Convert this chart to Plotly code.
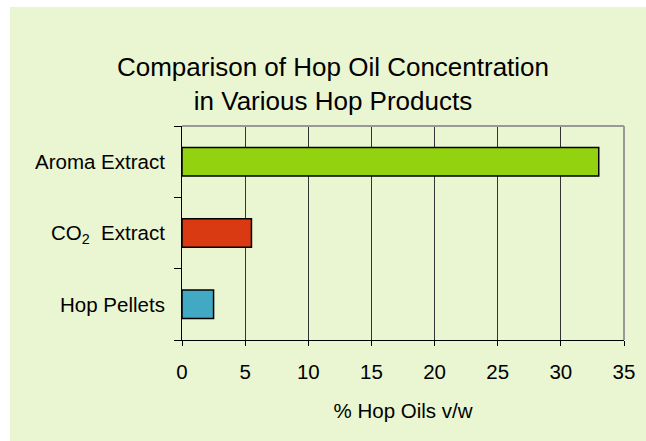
import plotly.graph_objects as go

categories = ["Hop Pellets", "CO<sub>2</sub>  Extract", "Aroma Extract"]
values = [2.5, 5.5, 33]
colors = ["#42A9C4", "#DA3A12", "#92D20F"]
x_ticks = [0, 5, 10, 15, 20, 25, 30, 35]

BG = "#EAF5D2"
W, H = 646, 441
L, R, T, B = 182, 22, 126, 101
pw, ph = W - L - R, H - T - B

fig = go.Figure()
fig.add_trace(go.Bar(
    y=categories, x=values, orientation="h",
    marker=dict(color=colors, line=dict(color="#000000", width=1.5)),
    width=0.4, showlegend=False, hoverinfo="skip",
))

font = "Liberation Sans, Arial, sans-serif"
FS = 20.5
fig.update_layout(
    width=W, height=H,
    margin=dict(l=L, r=R, t=T, b=B, autoexpand=False),
    paper_bgcolor=BG, plot_bgcolor=BG,
    font=dict(family=font, size=FS, color="#000000"),
    title=dict(text="Comparison of Hop Oil Concentration<br>in Various Hop Products",
               x=333 / W, xanchor="center", y=1 - 76 / H, yanchor="middle",
               font=dict(size=26, family=font, color="#000000")),
    xaxis=dict(range=[0, 35], tickvals=x_ticks, showgrid=True, gridcolor="#333333",
               gridwidth=1, showline=True, linecolor="#000000", linewidth=1,
               ticks="outside", ticklen=5, tickcolor="#000000", zeroline=False,
               mirror=False, tickfont=dict(size=FS), ticklabelstandoff=8,
               title=dict(text="% Hop Oils v/w", font=dict(size=FS), standoff=22)),
    yaxis=dict(type="category", showgrid=False, showline=True, linecolor="#000000",
               linewidth=1, ticks="outside", ticklen=7, tickcolor="#000000",
               tickson="boundaries", tickfont=dict(size=FS), ticklabelstandoff=12,
               range=[-0.5, 2.5]),
    shapes=[
        dict(type="line", xref="paper", yref="paper", x0=0, x1=1, y0=1, y1=1,
             line=dict(color="#999999", width=2), layer="above"),
        dict(type="line", xref="paper", yref="paper", x0=1, x1=1, y0=0, y1=1,
             line=dict(color="#999999", width=2), layer="above"),
        # white outer margin on left and top, as in the reference
        dict(type="rect", xref="paper", yref="paper", x0=-L / pw - 0.1, x1=-(L - 10) / pw,
             y0=-B / ph - 0.1, y1=(H - B) / ph + 0.1, fillcolor="#FFFFFF",
             line=dict(width=0), layer="below"),
        dict(type="rect", xref="paper", yref="paper", x0=-L / pw - 0.1, x1=(W - L) / pw + 0.1,
             y0=(H - B - 7) / ph, y1=(H - B) / ph + 0.1, fillcolor="#FFFFFF",
             line=dict(width=0), layer="below"),
    ],
)

fig.write_html("out.html",
               config={"displayModeBar": False},
               post_script="document.body.style.margin='0';document.body.style.overflow='hidden';")
